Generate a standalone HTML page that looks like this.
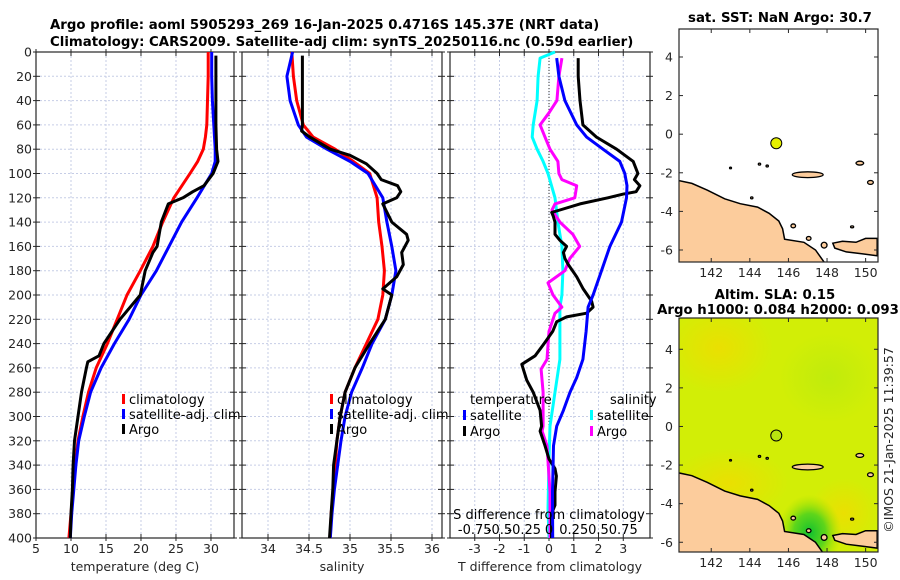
<!DOCTYPE html>
<html><head><meta charset="utf-8">
<style>
html,body{margin:0;padding:0;background:#fff;}
svg{display:block;font-family:"DejaVu Sans","Liberation Sans",sans-serif;}
.tk{font-size:12.5px;fill:#262626;}
.tt{font-size:13.3px;font-weight:bold;fill:#000;}
.lg{font-size:13px;fill:#000;}
</style></head>
<body>
<svg id="fig" width="900" height="580" viewBox="0 0 900 580" xmlns="http://www.w3.org/2000/svg">
<text class="tt" x="50" y="29">Argo profile: aoml 5905293_269 16-Jan-2025 0.4716S 145.37E (NRT data)</text>
<text class="tt" x="50" y="46">Climatology: CARS2009. Satellite-adj clim: synTS_20250116.nc (0.59d earlier)</text>
<g id="plots"></g>
<text class="tk" transform="translate(893,440) rotate(-90)" text-anchor="middle">©IMOS 21-Jan-2025 11:39:57</text>
</svg>
<script>
// ---- data ----
const depthTicks = [0,20,40,60,80,100,120,140,160,180,200,220,240,260,280,300,320,340,360,380,400];
const tempTicks = [5,10,15,20,25,30,35];
const salTicks = [34,34.5,35,35.5,36];
const tdiffTicks = [-3,-2,-1,0,1,2,3];
const sdiffTickLabels = ["-0.75","-0.5","-0.25","0","0.25","0.5","0.75"];

const stdDepth = [0,20,40,60,70,80,90,100,120,140,160,180,200,220,240,260,280,300,320,340,360,380,400];
const tempClim = [29.6,29.6,29.5,29.4,29.2,28.9,28.1,27.0,24.7,23.1,21.7,19.9,18.0,16.6,15.2,13.6,12.5,11.7,11.0,10.6,10.3,10.0,9.7];
const tempSat = [30.1,30.1,30.2,30.4,30.5,30.6,30.6,30.1,28.0,25.8,24.0,22.2,20.0,18.3,16.2,14.3,12.8,11.9,11.1,10.7,10.4,10.1,9.9];
const salClim = [34.29,34.31,34.35,34.43,34.55,34.82,35.04,35.24,35.33,35.35,35.39,35.42,35.40,35.34,35.20,35.06,34.94,34.88,34.84,34.82,34.80,34.77,34.76];
const salSat = [34.30,34.23,34.27,34.37,34.47,34.72,35.00,35.22,35.40,35.45,35.51,35.56,35.51,35.43,35.27,35.15,35.02,34.94,34.89,34.85,34.81,34.78,34.76];

const argoTDepth = [3,20,40,60,80,90,100,110,115,120,125,140,160,165,180,200,220,240,250,255,260,280,300,320,340,360,380,400];
const argoT = [30.7,30.7,30.7,30.7,30.8,31.0,30.3,29.0,27.4,26.0,23.9,22.9,22.3,21.7,20.6,19.9,17.0,14.7,14.0,12.4,12.2,11.5,11.0,10.5,10.3,10.2,10.0,9.9];
const argoSDepth = [3,20,40,60,65,70,80,85,92,100,105,110,115,120,125,140,150,155,165,175,185,195,200,220,240,260,280,300,320,340,360,380,400];
const argoS = [34.42,34.42,34.42,34.42,34.41,34.51,34.76,35.0,35.2,35.33,35.38,35.58,35.62,35.57,35.40,35.51,35.69,35.71,35.63,35.65,35.57,35.40,35.51,35.43,35.24,35.06,34.94,34.88,34.84,34.80,34.79,34.77,34.75];

const satSdDepth = [0,5,20,40,60,70,80,90,100,120,140,160,180,200,210,253,280,308,335,376,400];
const satSd = [0.06,-0.09,-0.11,-0.12,-0.16,-0.17,-0.12,-0.06,-0.01,0.06,0.09,0.13,0.14,0.13,0.11,0.11,0.06,0.01,0.0,-0.01,0.0];
const argoSdDepth = [5,20,40,50,60,70,80,90,100,105,110,120,125,130,140,150,160,170,180,190,200,210,215,230,253,261,280,308,312,324,362,390,400];
const argoSd = [0.13,0.10,0.08,0.0,-0.09,-0.04,0.01,0.09,0.10,0.13,0.28,0.26,0.06,0.03,0.11,0.24,0.31,0.21,0.16,-0.01,0.04,0.13,0.06,0.0,-0.02,-0.08,-0.06,-0.06,-0.07,-0.02,0.01,0.01,0.01];
const argoTdDepth = [5,20,40,60,70,80,90,100,105,110,115,117,120,125,130,132,135,140,150,155,160,165,170,175,185,195,205,210,215,218,222,230,240,250,257,270,280,295,308,312,324,335,343,349,362,373,380,400];
const argoTd = [1.18,1.18,1.25,1.37,1.92,2.73,3.4,3.59,3.45,3.67,3.52,2.98,2.38,1.25,0.44,0.11,0.17,0.24,0.24,0.44,0.71,0.58,0.64,0.78,1.12,1.38,1.72,1.78,1.52,0.71,0.31,0.15,-0.2,-0.56,-1.1,-0.9,-0.64,-0.36,-0.3,-0.36,-0.16,0.0,0.24,0.3,0.24,0.24,0.1,0.1];
const satTdDepth = [5,20,40,60,70,80,90,100,110,120,140,160,180,200,210,230,253,268,280,295,308,324,362,400];
const satTd = [0.31,0.4,0.64,1.12,1.52,2.18,2.86,3.06,3.15,3.13,2.93,2.46,2.12,1.78,1.58,1.5,1.37,1.12,0.85,0.58,0.31,0.18,0.14,0.15];

const lonTicks = [142,144,146,148,150];
const latTicks = [4,2,0,-2,-4,-6];
const argoLon = 145.37, argoLat = -0.47;
const coastLon = [140.3,141.0,141.8,142.7,143.5,144.4,145.0,145.5,145.7,145.8,146.8,147.4,147.9,140.3];
const coastLat = [-2.4,-2.55,-2.9,-3.35,-3.6,-3.78,-4.1,-4.5,-4.9,-5.44,-5.6,-6.0,-6.7,-6.7];
const nbLon = [148.3,148.8,149.5,150.0,150.6,150.6,149.8,149.0,148.4];
const nbLat = [-5.65,-5.55,-5.6,-5.4,-5.4,-6.3,-6.2,-6.1,-5.9];
const isleLon = [147.0,150.25,146.25,147.05,147.85,144.5,144.9,143.0,149.7,149.3,144.1];
const isleLat = [-2.1,-2.5,-4.75,-5.4,-5.75,-1.55,-1.65,-1.75,-1.5,-4.8,-3.3];
const isleRx = [0.8,0.15,0.12,0.12,0.15,0.06,0.06,0.05,0.2,0.08,0.06];
const isleRy = [0.15,0.1,0.1,0.1,0.15,0.05,0.05,0.04,0.1,0.05,0.05];

// ---- drawing ----
const NS='http://www.w3.org/2000/svg';
const root=document.getElementById('plots');
function el(tag,attrs,parent){const e=document.createElementNS(NS,tag);for(const k in attrs)e.setAttribute(k,attrs[k]);(parent||root).appendChild(e);return e;}
const Y0=52,Y1=538;
const yD=d=>Y0+(d/400)*(Y1-Y0);

function panel(name,x0,x1,xmin,xmax,xticks,xlabels,xtitle,showY){
  const g=el('g',{});
  
  
  const sx=v=>x0+(v-xmin)/(xmax-xmin)*(x1-x0);
  depthTicks.forEach(d=>{
    const l=el('line',{x1:x0,x2:x1,y1:yD(d),y2:yD(d),stroke:'#c6cde6','stroke-width':1,'stroke-dasharray':'2,2'},g);
    
    
    el('line',{x1:x0-3,x2:x0+4,y1:yD(d),y2:yD(d),stroke:'#262626'},g);
    el('line',{x1:x1-4,x2:x1+3,y1:yD(d),y2:yD(d),stroke:'#262626'},g);
    if(showY){const t=el('text',{x:x0-4,y:yD(d)+4.5,'text-anchor':'end',class:'tk'},g);t.textContent=d;
      
      }
  });
  xticks.forEach((v,i)=>{
    const X=sx(v);
    if(X<x0-0.5||X>x1+0.5)return;
    const l=el('line',{x1:X,x2:X,y1:Y0,y2:Y1,stroke:'#c6cde6','stroke-width':1,'stroke-dasharray':'2,2'},g);
    
    
    el('line',{x1:X,x2:X,y1:Y1-4,y2:Y1+3,stroke:'#262626'},g);
    el('line',{x1:X,x2:X,y1:Y0-3,y2:Y0+4,stroke:'#262626'},g);
    const t=el('text',{x:X,y:553,'text-anchor':'middle',class:'tk'},g);t.textContent=xlabels[i];
    
    
  });
  const r=el('rect',{x:x0,y:Y0,width:x1-x0,height:Y1-Y0,fill:'none',stroke:'#262626','stroke-width':1.2},g);
  
  
  const tt=el('text',{x:(x0+x1)/2,y:571,'text-anchor':'middle',class:'tk','font-size':'13px'},g);tt.textContent=xtitle;
  
  
  return {g,sx};
}
function line(p,depths,vals,color,name,w){
  const pts=depths.map((d,i)=>p.sx(vals[i]).toFixed(1)+','+yD(d).toFixed(1)).join(' ');
  const l=el('polyline',{points:pts,fill:'none',stroke:color,'stroke-width':w||3,'stroke-linejoin':'round'},p.g);
  
  
}
function legend(g,x,y,color,label,name){
  el('rect',{x:x,y:y-10,width:3,height:10,fill:color},g);
  const t=el('text',{x:x+7,y:y,class:'lg'},g);t.textContent=label;
  
  
}

// Panel 1
const p1=panel('temperature-panel',36,234,5,33.29,tempTicks,tempTicks.map(String),'temperature (deg C)',true);
line(p1,stdDepth,tempClim,'#ff0000','temp-climatology-line');
line(p1,stdDepth,tempSat,'#0000ff','temp-satellite-line');
line(p1,argoTDepth,argoT,'#000000','temp-argo-line');
legend(p1.g,122,404,'#ff0000','climatology','legend-climatology');
legend(p1.g,122,419,'#0000ff','satellite-adj. clim','legend-satellite');
legend(p1.g,122,434,'#000000','Argo','legend-argo');

// Panel 2
const p2=panel('salinity-panel',242,442,33.683,36.122,salTicks,['34','34.5','35','35.5','36'],'salinity',false);
line(p2,stdDepth,salClim,'#ff0000','sal-climatology-line');
line(p2,stdDepth,salSat,'#0000ff','sal-satellite-line');
line(p2,argoSDepth,argoS,'#000000','sal-argo-line');
legend(p2.g,330,404,'#ff0000','climatology','legend-climatology');
legend(p2.g,330,419,'#0000ff','satellite-adj. clim','legend-satellite');
legend(p2.g,330,434,'#000000','Argo','legend-argo');

// Panel 3
const p3=panel('difference-panel',450,650,-4.0,4.08,tdiffTicks,tdiffTicks.map(String),'T difference from climatology',false);
const zx=p3.sx(0);
el('line',{x1:zx,x2:zx,y1:Y0,y2:Y1,stroke:'#333','stroke-width':1,'stroke-dasharray':'1,2'},p3.g);
const p3s={g:p3.g,sx:v=>p3.sx(v*4)};
line(p3s,satSdDepth,satSd,'#00ffff','sal-diff-satellite-line');
line(p3s,argoSdDepth,argoSd,'#ff00ff','sal-diff-argo-line');
line(p3,argoTdDepth,argoTd,'#000000','temp-diff-argo-line');
line(p3,satTdDepth,satTd,'#0000ff','temp-diff-satellite-line');
{
  const t=el('text',{x:470,y:404,class:'lg'},p3.g);t.textContent='temperature';
  
  
  const t2=el('text',{x:610,y:404,class:'lg'},p3.g);t2.textContent='salinity';
  
  
}
legend(p3.g,463,420,'#0000ff','satellite','legend-temp-satellite');
legend(p3.g,463,436,'#000000','Argo','legend-temp-argo');
legend(p3.g,590,420,'#00ffff','satellite','legend-sal-satellite');
legend(p3.g,590,436,'#ff00ff','Argo','legend-sal-argo');
{
  const t=el('text',{x:549,y:519,'text-anchor':'middle',class:'lg'},p3.g);t.textContent='S difference from climatology';
  
  
  sdiffTickLabels.forEach((s,i)=>{
    const tl=el('text',{x:p3.sx(tdiffTicks[i]),y:534,'text-anchor':'middle',class:'lg'},p3.g);tl.textContent=s;
    
    
  });
}

// Maps
function map(name,top,bottom,latTop,sla){
  const L=679,R=878,lon0=140.33,lat0=latTop,k=19.3;
  const g=el('g',{});
  
  
  const mx=lon=>L+(lon-lon0)*k, my=lat=>top+(lat0-lat)*k;
  const cid='clip'+name;
  const cp=el('clipPath',{id:cid},g);el('rect',{x:L,y:top,width:R-L,height:bottom-top},cp);
  const c=el('g',{'clip-path':'url(#'+cid+')'},g);
  if(sla){
    const defs=el('defs',{},g);
    const rg=el('radialGradient',{id:'gy'+name},defs);
    el('stop',{offset:'0','stop-color':'#f0dc00','stop-opacity':'0.8'},rg);
    el('stop',{offset:'1','stop-color':'#f0dc00','stop-opacity':'0'},rg);
    const gg=el('radialGradient',{id:'gg'+name},defs);
    el('stop',{offset:'0','stop-color':'#10c030','stop-opacity':'1'},gg);
    el('stop',{offset:'0.5','stop-color':'#40d020','stop-opacity':'0.8'},gg);
    el('stop',{offset:'1','stop-color':'#a0e000','stop-opacity':'0'},gg);
    const gl=el('radialGradient',{id:'gl'+name},defs);
    el('stop',{offset:'0','stop-color':'#b4ea10','stop-opacity':'0.6'},gl);
    el('stop',{offset:'1','stop-color':'#b4ea10','stop-opacity':'0'},gl);
    el('rect',{x:L,y:top,width:R-L,height:bottom-top,fill:'#d2ee06'},c);
    el('ellipse',{cx:L+40,cy:top+30,rx:55,ry:45,fill:'url(#gy'+name+')'},c);
    el('ellipse',{cx:L+50,cy:top+165,rx:60,ry:35,fill:'url(#gy'+name+')'},c);
    el('ellipse',{cx:L+165,cy:top+195,rx:35,ry:35,fill:'url(#gy'+name+')'},c);
    el('ellipse',{cx:L+150,cy:top+60,rx:50,ry:45,fill:'url(#gl'+name+')'},c);
    el('ellipse',{cx:mx(147.1),cy:my(-5.5),rx:32,ry:38,fill:'url(#gg'+name+')'},c);
  }
  const poly=(lons,lats,nm)=>{const p=el('polygon',{points:lons.map((v,i)=>mx(v).toFixed(1)+','+my(lats[i]).toFixed(1)).join(' '),fill:'#fccc9c',stroke:'#000','stroke-width':1.5},c);
    };
  poly(coastLon,coastLat,'new-guinea-land');
  poly(nbLon,nbLat,'new-britain-land');
  isleLon.forEach((v,i)=>{const e=el('ellipse',{cx:mx(v),cy:my(isleLat[i]),rx:isleRx[i]*k,ry:isleRy[i]*k,fill:'#fccc9c',stroke:'#000','stroke-width':1.3},c);
    });
  const m=el('circle',{cx:mx(argoLon),cy:my(argoLat),r:5.5,fill:sla?'#b8e410':'#e6f000',stroke:'#000','stroke-width':1},c);
  
  
  el('rect',{x:L,y:top,width:R-L,height:bottom-top,fill:'none',stroke:'#262626','stroke-width':1.2},g);
  latTicks.forEach(v=>{const Y=my(v);
    el('line',{x1:L,x2:L+4,y1:Y,y2:Y,stroke:'#262626'},g);el('line',{x1:R-4,x2:R,y1:Y,y2:Y,stroke:'#262626'},g);
    const t=el('text',{x:L-6,y:Y+4.5,'text-anchor':'end',class:'tk'},g);t.textContent=v;
    });
  lonTicks.forEach(v=>{const X=mx(v);
    el('line',{x1:X,x2:X,y1:bottom-4,y2:bottom,stroke:'#262626'},g);el('line',{x1:X,x2:X,y1:top,y2:top+4,stroke:'#262626'},g);
    const t=el('text',{x:X,y:bottom+15,'text-anchor':'middle',class:'tk'},g);t.textContent=v;
    });
  return g;
}
const m1=map('sst-map',29,262,5.45,false);
const m2=map('sla-map',318,552,5.62,true);
function title(g,x,y,s,nm){const t=el('text',{x:x,y:y,'text-anchor':'middle',class:'tt','font-size':'12.5px'},g);t.textContent=s;
  }
title(m1,780,22,'sat. SST: NaN Argo: 30.7','sst-map-title');
title(m2,775,299,'Altim. SLA: 0.15','sla-map-title');
title(m2,778,314,'Argo h1000: 0.084 h2000: 0.093','sla-map-subtitle');
</script>
</body></html>
